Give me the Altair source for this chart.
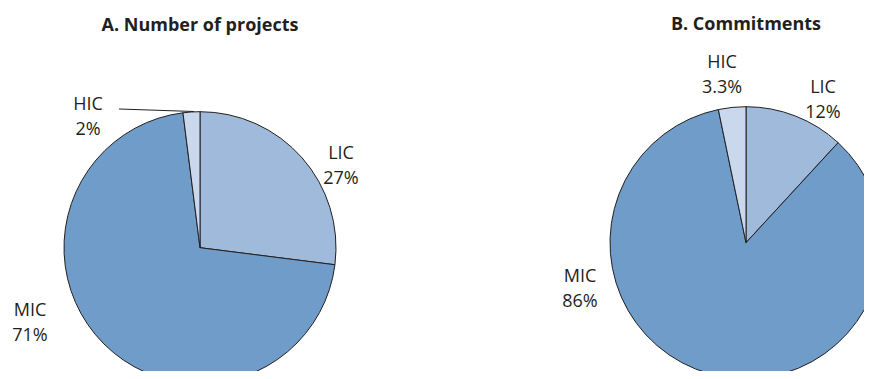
import altair as alt
import pandas as pd

groups = ["LIC", "MIC", "HIC"]
projects = [27, 71, 2]
commitments = [12, 86, 3.3]
proj_labels = ["27%", "71%", "2%"]
comm_labels = ["12%", "86%", "3.3%"]
titles = ["A. Number of projects", "B. Commitments"]
colors = ["#a0badb", "#6f9cc9", "#c9d8ec"]

FONT = "Open Sans"
INK = "#231f20"


def pie(values, cx, cy):
    df = pd.DataFrame({"group": groups, "value": values, "idx": list(range(len(groups)))})
    return alt.Chart(df).mark_arc(
        outerRadius=136, stroke=INK, strokeWidth=1, clip=True
    ).encode(
        theta=alt.Theta("value:Q", stack=True),
        color=alt.Color("group:N", scale=alt.Scale(domain=groups, range=colors), legend=None),
        order=alt.Order("idx:Q"),
        x=alt.value(cx),
        y=alt.value(cy),
    )


def label(group, pct, x, y):
    df = pd.DataFrame({"group": [group], "label": [pct]})
    return alt.Chart(df).transform_calculate(
        txt="datum.group + '\\n' + datum.label"
    ).mark_text(
        font=FONT, fontSize=18, color=INK, align="center", baseline="alphabetic",
        lineBreak="\n", lineHeight=25
    ).encode(text="txt:N", x=alt.value(x), y=alt.value(y))


def title(t, x, y):
    df = pd.DataFrame({"t": [t]})
    return alt.Chart(df).mark_text(
        font=FONT, fontSize=18, fontWeight="bold", color=INK, align="center", baseline="alphabetic"
    ).encode(text="t:N", x=alt.value(x), y=alt.value(y))


pieA = pie(projects, 192, 239.7)
pieB = pie(commitments, 738, 234.7)

leader = alt.Chart(pd.DataFrame({"g": [groups[2]]})).mark_rule(color=INK, strokeWidth=1).encode(
    x=alt.value(111), y=alt.value(101), x2=alt.value(186), y2=alt.value(103.5)
)

layers = [
    pieA,
    pieB,
    leader,
    label(groups[0], proj_labels[0], 333, 150.5),
    label(groups[1], proj_labels[1], 22, 308),
    label(groups[2], proj_labels[2], 80, 102),
    label(groups[0], comm_labels[0], 815, 84.7),
    label(groups[1], comm_labels[1], 572, 273.7),
    label(groups[2], comm_labels[2], 714, 60.3),
    title(titles[0], 192, 22.7),
    title(titles[1], 738, 22),
]

chart = alt.layer(*layers).resolve_scale(theta="independent").properties(
    width=856, height=363, padding=0, autosize=alt.AutoSizeParams(type="none")
).configure_view(stroke=None)

chart.save("out.html", embed_options={"renderer": "svg", "actions": False})
